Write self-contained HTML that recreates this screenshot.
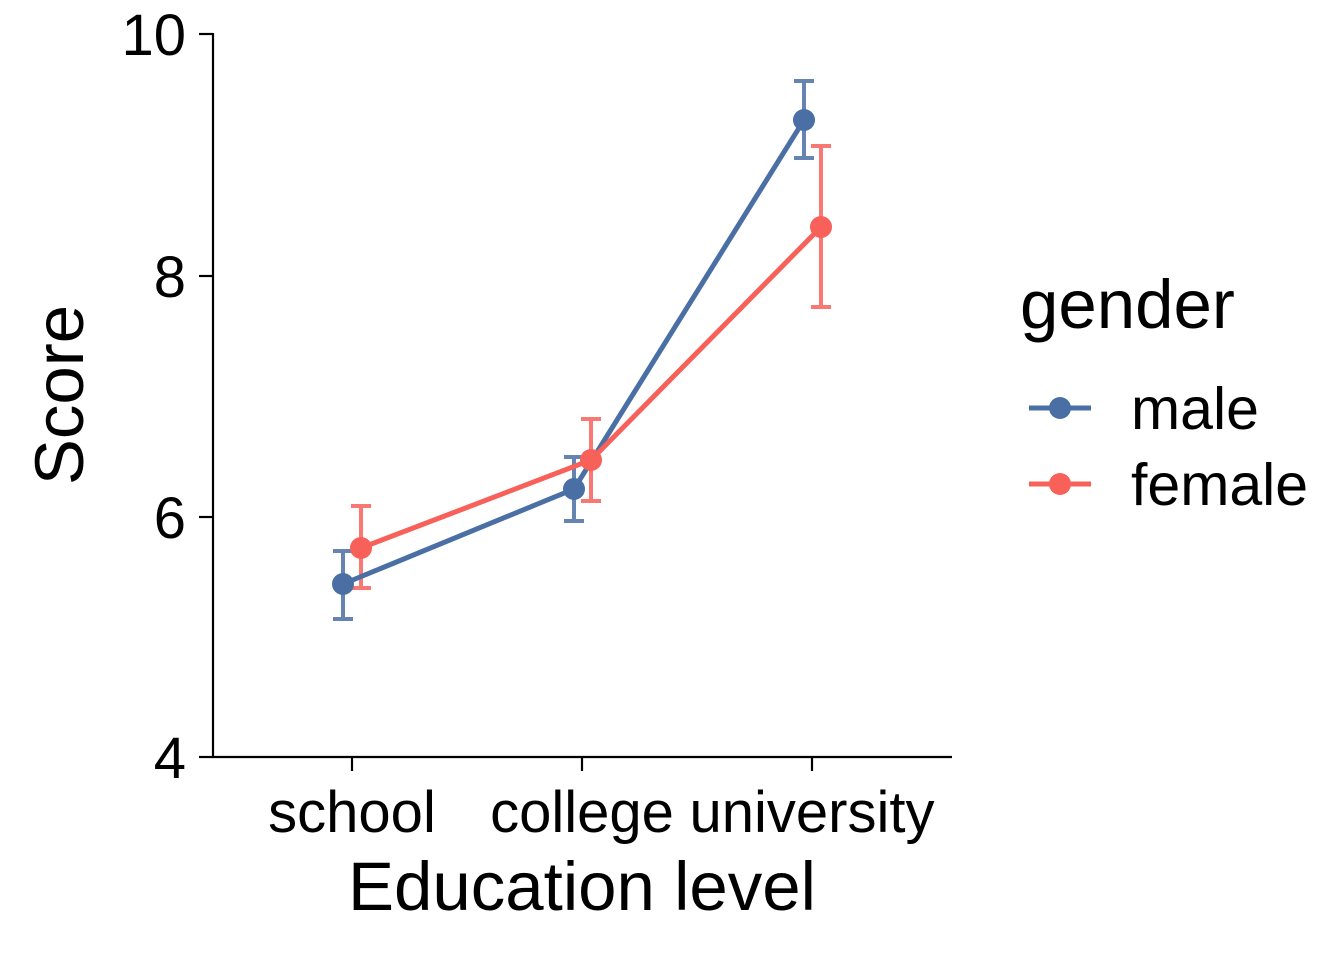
<!DOCTYPE html>
<html><head><meta charset="utf-8"><style>
html,body{margin:0;padding:0;background:#fff;}
text{font-family:"Liberation Sans",Arial,sans-serif;fill:#000;}
</style></head><body>
<svg width="1344" height="960" viewBox="0 0 1344 960" xmlns="http://www.w3.org/2000/svg">
<g stroke="#000" stroke-width="2.2" fill="none">
<line x1="213" y1="33" x2="213" y2="758"/>
<line x1="212" y1="757" x2="952" y2="757"/>
<line x1="199" y1="34" x2="213" y2="34"/>
<line x1="199" y1="276" x2="213" y2="276"/>
<line x1="199" y1="517" x2="213" y2="517"/>
<line x1="199" y1="757" x2="213" y2="757"/>
<line x1="352" y1="757" x2="352" y2="771"/>
<line x1="582" y1="757" x2="582" y2="771"/>
<line x1="812" y1="757" x2="812" y2="771"/>
</g>
<g font-size="58" text-anchor="end">
<text x="186" y="55">10</text>
<text x="186" y="297">8</text>
<text x="186" y="538">6</text>
<text x="186" y="778">4</text>
</g>
<g font-size="58" text-anchor="middle">
<text x="352" y="832">school</text>
<text x="582" y="832">college</text>
<text x="812" y="832">university</text>
</g>
<text x="582" y="910" font-size="69" text-anchor="middle">Education level</text>
<text transform="translate(83,395) rotate(-90)" font-size="69" text-anchor="middle">Score</text>
<g stroke="#4a6fa5" stroke-width="4" stroke-opacity="0.85" fill="none">
<path d="M343 551V619M333 551H353M333 619H353"/>
<path d="M574 457V521M564 457H584M564 521H584"/>
<path d="M804 81V158M794 81H814M794 158H814"/>
</g>
<g stroke="#f8605a" stroke-width="4" stroke-opacity="0.85" fill="none">
<path d="M361 506V588M351 506H371M351 588H371"/>
<path d="M591 419V501M581 419H601M581 501H601"/>
<path d="M821 146V307M811 146H831M811 307H831"/>
</g>
<polyline points="343,584 574,489 804,120" fill="none" stroke="#4a6fa5" stroke-width="5"/>
<polyline points="361,548 591,460 821,227" fill="none" stroke="#f8605a" stroke-width="5"/>
<g fill="#4a6fa5"><circle cx="343" cy="584" r="11"/><circle cx="574" cy="489" r="11"/><circle cx="804" cy="120" r="11"/></g>
<g fill="#f8605a"><circle cx="361" cy="548" r="11"/><circle cx="591" cy="460" r="11"/><circle cx="821" cy="227" r="11"/></g>
<text x="1020" y="328" font-size="69">gender</text>
<line x1="1029" y1="408" x2="1091" y2="408" stroke="#4a6fa5" stroke-width="5"/>
<circle cx="1060" cy="408" r="11" fill="#4a6fa5"/>
<line x1="1029" y1="484" x2="1091" y2="484" stroke="#f8605a" stroke-width="5"/>
<circle cx="1060" cy="484" r="11" fill="#f8605a"/>
<text x="1131" y="429" font-size="59">male</text>
<text x="1131" y="505" font-size="59">female</text>
</svg>
</body></html>
